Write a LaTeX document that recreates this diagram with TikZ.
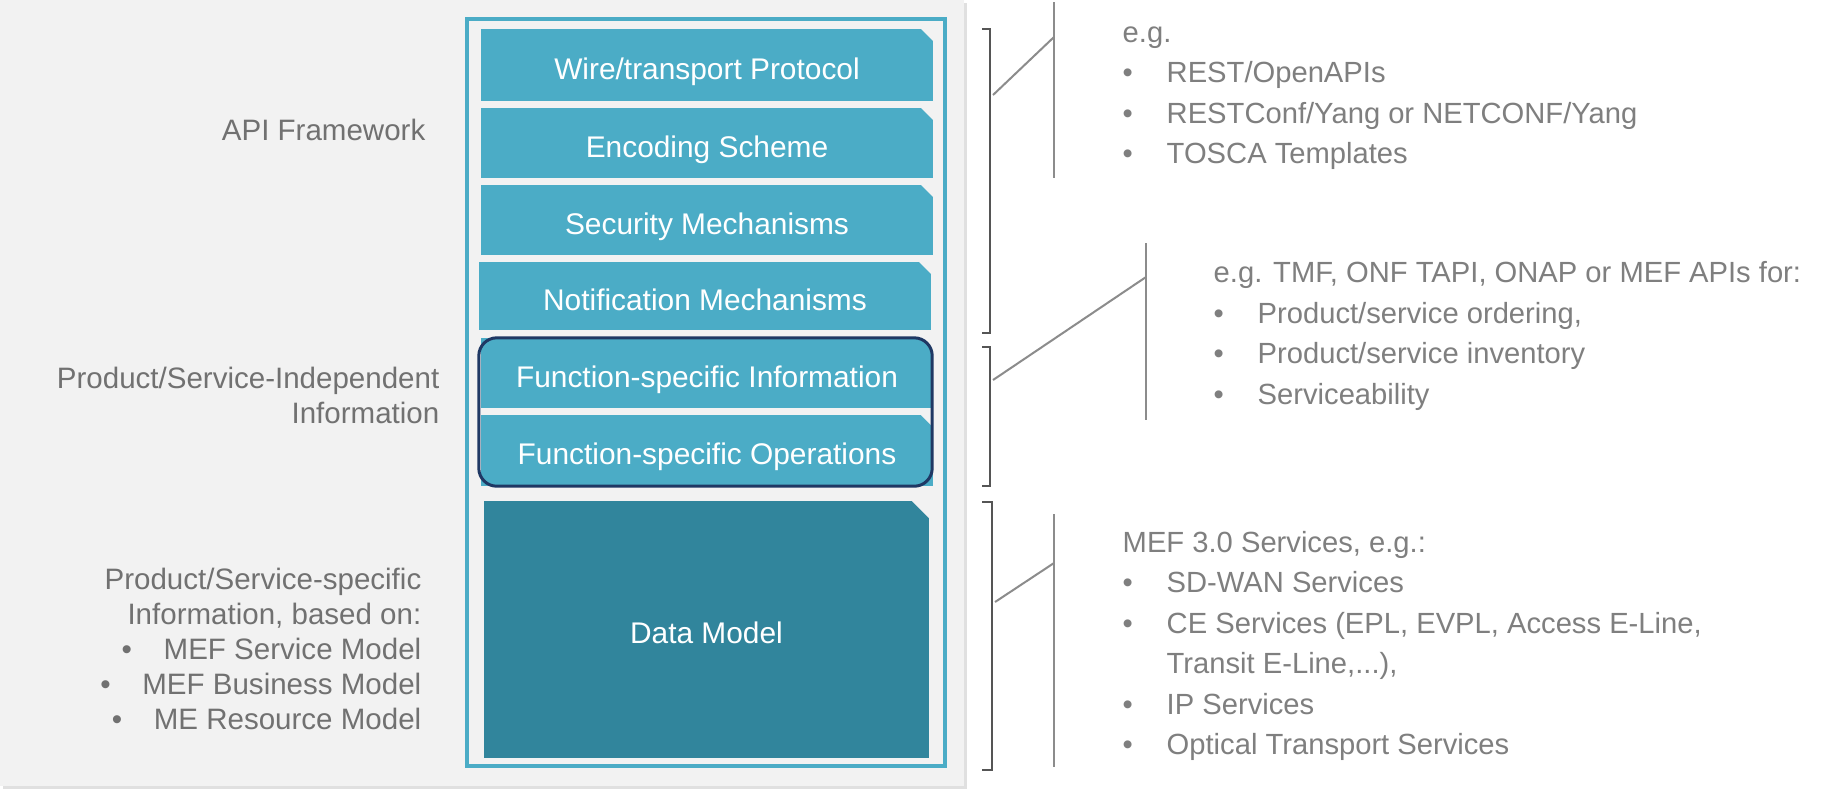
\documentclass[tikz,border=0pt]{standalone}
\usepackage{fontspec}
\setmainfont{Liberation Sans}
\usetikzlibrary{shadows}
\definecolor{panel}{HTML}{F2F2F2}
\definecolor{layer}{HTML}{4BACC6}
\definecolor{datalayer}{HTML}{31859C}
\definecolor{navy}{HTML}{1F3864}
\definecolor{txtgray}{HTML}{7F7F7F}
\definecolor{sidegray}{HTML}{717171}
\definecolor{brgray}{HTML}{555555}
\definecolor{divgray}{HTML}{8C8C8C}
\newcommand{\bul}{\makebox[4.4mm][l]{\textbullet}}
\newcommand{\sbul}{\makebox[4.2mm][l]{\textbullet}}

\begin{document}
\begin{tikzpicture}[x=0.1mm,y=-0.1mm,
  layerbox/.style 2 args={fill=layer,text=white,inner sep=0pt,minimum height=#1,
    text height=2.85mm,text depth=0pt,font=\fontsize{8.5}{10}\selectfont,
    path picture={\fill[panel] (path picture bounding box.north east) -- ++(-#2,0) -- ++(#2,-#2) -- cycle;}},
  sidelabel/.style={text=sidegray,align=right,inner sep=0pt,font=\fontsize{8.4}{9.96}\selectfont},
  listtext/.style={text=txtgray,align=left,inner sep=0pt,font=\fontsize{8.3}{11.5}\selectfont},
  bracket/.style={draw=brgray,line width=0.2mm},
  divline/.style={draw=divgray,line width=0.2mm}]
\useasboundingbox (0,0) rectangle (1821,795);
\fill[white] (0,0) rectangle (1821,795);
\fill[panel,drop shadow={shadow xshift=0.3mm,shadow yshift=-0.3mm,fill=black,opacity=0.12}] (0,0) rectangle (964,786);
\draw[layer,line width=0.4mm] (467,19) rectangle (945,766);

\node[layerbox={7.2mm}{1.2mm},minimum width=45.2mm] (wire) at (707,65) {Wire/transport Protocol};
\node[layerbox={7.0mm}{1.2mm},minimum width=45.2mm] (enc) at (707,143) {Encoding Scheme};
\node[layerbox={7.0mm}{1.2mm},minimum width=45.2mm] (sec) at (707,220) {Security Mechanisms};
\node[layerbox={6.8mm}{1.2mm},minimum width=45.2mm] (notif) at (705,296) {Notification Mechanisms};
\node[layerbox={7.0mm}{1.2mm},minimum width=45.2mm] (fsinfo) at (707,373) {Function-specific Information};
\node[layerbox={7.1mm}{1.2mm},minimum width=45.2mm] (fsops) at (707,450.5) {Function-specific Operations};
\node[layerbox={25.7mm}{1.7mm},minimum width=44.5mm,fill=datalayer] (data) at (706.5,629.5) {Data Model};
\draw[navy,line width=0.3mm,rounded corners=1.8mm] ([xshift=-0.15mm,yshift=-0.05mm]fsinfo.north west) rectangle ([xshift=-0.15mm,yshift=0.05mm]fsops.south east);

\node[sidelabel,anchor=east] (apifw) at (426,130) {API Framework};
\node[sidelabel,anchor=east] (indep) at (440,395.5) {Product/Service-Independent\\Information};
\node[sidelabel,anchor=east] (specific) at (422,649) {Product/Service-specific\\Information, based on:\\\sbul MEF Service Model\\\sbul MEF Business Model\\\sbul ME Resource Model};

\node[listtext,anchor=west] (apiex) at (1122,98) {e.g.\\\bul REST/OpenAPIs\\\bul RESTConf/Yang or NETCONF/Yang\\\bul TOSCA Templates};
\node[listtext,anchor=west] (indepex) at (1213,336) {e.g. TMF, ONF TAPI, ONAP or MEF APIs for:\\\bul Product/service ordering,\\\bul Product/service inventory\\\bul Serviceability};
\node[listtext,anchor=west] (specex) at (1122,646) {MEF 3.0 Services, e.g.:\\\bul SD-WAN Services\\\bul CE Services (EPL, EVPL, Access E-Line,\\\hspace{4.4mm}Transit E-Line,...),\\\bul IP Services\\\bul Optical Transport Services};

\coordinate (apitop) at (990,29);
\coordinate (apibot) at (990,333);
\coordinate (indeptop) at (990,347);
\coordinate (indepbot) at (990,486);
\coordinate (spectop) at (992,502);
\coordinate (specbot) at (992,770);
\draw[bracket] ([xshift=-0.8mm]apitop) -- (apitop) -- (apibot) -- ([xshift=-0.8mm]apibot);
\draw[bracket] ([xshift=-0.8mm]indeptop) -- (indeptop) -- (indepbot) -- ([xshift=-0.8mm]indepbot);
\draw[bracket] ([xshift=-1.0mm]spectop) -- (spectop) -- (specbot) -- ([xshift=-1.0mm]specbot);

\coordinate (apidivtop) at (1054,2);
\coordinate (apidivbot) at (1054,178);
\coordinate (apiknee) at (1054,37);
\coordinate (apifoot) at (993,95);
\coordinate (indepdivtop) at (1146,243);
\coordinate (indepdivbot) at (1146,420);
\coordinate (indepknee) at (1146,277);
\coordinate (indepfoot) at (993,380);
\coordinate (specdivtop) at (1054,514);
\coordinate (specdivbot) at (1054,767);
\coordinate (specknee) at (1054,563);
\coordinate (specfoot) at (995,602);
\draw[divline] (apidivtop) -- (apidivbot);
\draw[divline] (apifoot) -- (apiknee);
\draw[divline] (indepdivtop) -- (indepdivbot);
\draw[divline] (indepfoot) -- (indepknee);
\draw[divline] (specdivtop) -- (specdivbot);
\draw[divline] (specfoot) -- (specknee);
\end{tikzpicture}
\end{document}
